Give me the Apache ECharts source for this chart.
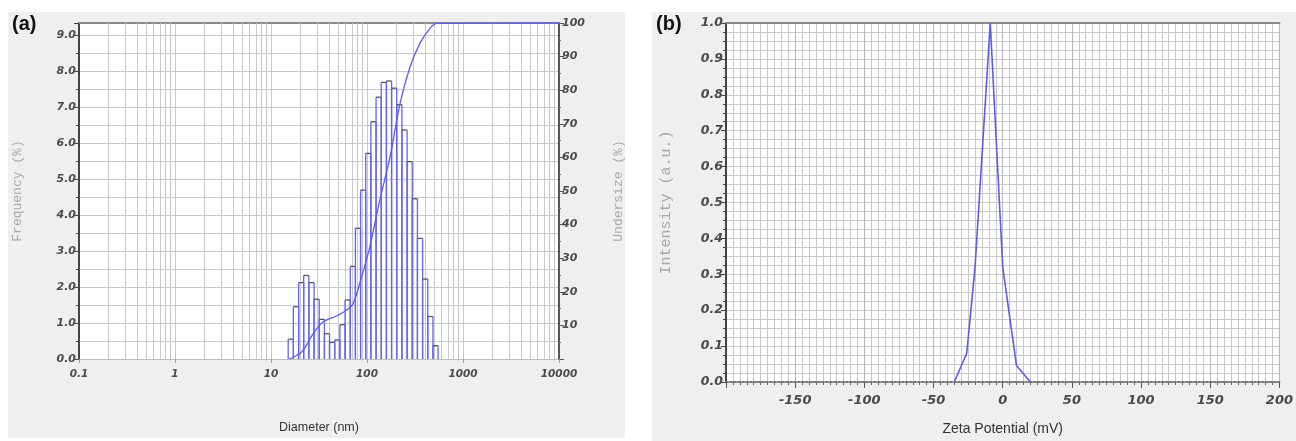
<!DOCTYPE html>
<html>
<head>
<meta charset="utf-8">
<script src="https://cdn.jsdelivr.net/npm/echarts@6/dist/echarts.min.js"></script>
<style>
html,body{margin:0;padding:0;background:#fff;}
#chart{width:1296px;height:441px;}
</style>
</head>
<body>
<div id="chart"></div>
<script>
// ---------- Panel (a): particle size distribution ----------
// histogram bin edges (nm)
const binEdgesNm = [15.1, 17.1, 19.4, 21.9, 24.8, 28.1, 31.8, 36.0, 40.7, 46.1, 52.2, 59.1, 66.9, 75.7, 85.7, 97.0,
  109.8, 124.3, 140.7, 159.3, 180.3, 204.1, 231.1, 261.6, 296.1, 335.2, 379.5, 429.6, 486.3, 550.5];
// frequency (%) of each bin
const frequencyPct = [0.55, 1.45, 2.12, 2.32, 2.12, 1.66, 1.10, 0.70, 0.46, 0.53, 0.95, 1.64, 2.57, 3.63, 4.69,
  5.71, 6.59, 7.27, 7.68, 7.72, 7.52, 7.06, 6.36, 5.48, 4.45, 3.35, 2.22, 1.18, 0.37];
// cumulative undersize curve
const undersizeDiameterNm = [15.5, 21, 27.6, 35, 48, 61.5, 72, 88, 107, 136, 174, 221, 281, 357, 453, 532, 10000];
const undersizePct = [0, 2.2, 7.6, 11.1, 12.8, 14.6, 16.6, 24.5, 33.4, 47.3, 60.2, 76.1, 87, 94, 98.4, 99.9, 100];
// log grid minor lines
const logMinorLines = [0.2,0.3,0.4,0.5,0.6,0.7,0.8,0.9, 2,3,4,5,6,7,8,9, 20,30,40,50,60,70,80,90,
  200,300,400,500,600,700,800,900, 2000,3000,4000,5000,6000,7000,8000,9000];

// ---------- Panel (b): zeta potential ----------
const zetaMv = [-35, -26, -20, -9, 0, 10, 20];
const zetaIntensity = [0, 0.08, 0.32, 1.0, 0.32, 0.045, 0];

const histData = frequencyPct.map((f, i) => [binEdgesNm[i], binEdgesNm[i + 1], f]);
const undersizeData = undersizeDiameterNm.map((d, i) => [d, undersizePct[i]]);
const zetaData = zetaMv.map((v, i) => [v, zetaIntensity[i]]);

const tickFont = {fontFamily: 'DejaVu Sans', fontWeight: 'bold', fontStyle: 'italic', color: '#4a4a4a'};
const gridColor = '#c9c9c9';
const blue = '#5b5bef';

const chart = echarts.init(document.getElementById('chart'), null, {renderer: 'canvas'});
chart.setOption({
  animation: false,
  backgroundColor: '#ffffff',
  graphic: [
    {type: 'rect', z: -100, shape: {x: 8, y: 12, width: 617, height: 426}, style: {fill: '#efefef'}, silent: true},
    {type: 'rect', z: -100, shape: {x: 652, y: 12, width: 644, height: 429}, style: {fill: '#efefef'}, silent: true},
    {type: 'text', left: 12, top: 14, style: {text: '(a)', font: 'bold 20px "Liberation Sans", Arial', fill: '#111'}},
    {type: 'text', left: 656, top: 14, style: {text: '(b)', font: 'bold 20px "Liberation Sans", Arial', fill: '#111'}}
  ],
  grid: [
    {left: 79, top: 23, width: 480, height: 336, show: true, backgroundColor: '#ffffff', borderWidth: 0},
    {left: 726, top: 23, width: 557, height: 364, show: true, backgroundColor: '#ffffff', borderWidth: 0}
  ],
  xAxis: [
    {
      gridIndex: 0, type: 'log', logBase: 10, min: 0.1, max: 10000,
      name: 'Diameter (nm)', nameLocation: 'middle', nameGap: 62,
      nameTextStyle: {fontFamily: 'Liberation Sans', fontSize: 12.5, color: '#333'},
      axisLine: {show: true, onZero: false, lineStyle: {color: '#bbb', width: 1, type: 'dotted'}},
      axisTick: {show: true, length: 4, lineStyle: {color: '#999'}},
      axisLabel: Object.assign({fontSize: 10.5, margin: 10, formatter: v => String(v)}, tickFont),
      splitLine: {show: true, lineStyle: {color: gridColor, width: 1}}
    },
    {
      gridIndex: 0, type: 'log', logBase: 10, min: 0.1, max: 10000, position: 'top',
      axisLine: {show: true, onZero: false, lineStyle: {color: '#8a8a8a', width: 2}},
      axisTick: {show: false}, axisLabel: {show: false}, splitLine: {show: false}
    },
    {
      gridIndex: 1, type: 'value', min: -200, max: 200, interval: 50,
      name: 'Zeta Potential (mV)', nameLocation: 'middle', nameGap: 40,
      nameTextStyle: {fontFamily: 'Liberation Sans', fontSize: 14, color: '#333'},
      axisLine: {show: true, onZero: false, lineStyle: {color: '#777', width: 2, type: 'dotted'}},
      axisTick: {show: true, length: 6, lineStyle: {color: '#555'}},
      minorTick: {show: true, splitNumber: 10, length: 3, lineStyle: {color: '#666'}},
      axisLabel: Object.assign({fontSize: 13, margin: 12, showMinLabel: false}, tickFont),
      splitLine: {show: true, lineStyle: {color: '#b8b8b8', width: 1}},
      minorSplitLine: {show: true, lineStyle: {color: gridColor, width: 1}}
    },
    {
      gridIndex: 1, type: 'value', min: -200, max: 200, position: 'top',
      axisLine: {show: true, onZero: false, lineStyle: {color: '#8a8a8a', width: 2}},
      axisTick: {show: false}, axisLabel: {show: false}, splitLine: {show: false}
    }
  ],
  yAxis: [
    {
      gridIndex: 0, type: 'value', min: 0, max: 9.33, interval: 1,
      name: 'Frequency (%)', nameLocation: 'middle', nameGap: 55, nameRotate: 90,
      nameTextStyle: {fontFamily: 'Liberation Mono', fontSize: 13, color: '#a8a8a8'},
      axisLine: {show: true, onZero: false, lineStyle: {color: '#444', width: 2}},
      axisTick: {show: true, length: 5, lineStyle: {color: '#444'}},
      minorTick: {show: true, splitNumber: 2, length: 3, lineStyle: {color: '#444'}},
      axisLabel: Object.assign({fontSize: 11, margin: 3, showMaxLabel: false, formatter: v => v.toFixed(1)}, tickFont),
      splitLine: {show: true, lineStyle: {color: gridColor, width: 1}},
      minorSplitLine: {show: true, lineStyle: {color: gridColor, width: 1}}
    },
    {
      gridIndex: 0, type: 'value', min: 0, max: 100, interval: 10, position: 'right',
      name: 'Undersize (%)', nameLocation: 'middle', nameGap: 53, nameRotate: 90,
      nameTextStyle: {fontFamily: 'Liberation Mono', fontSize: 13, color: '#a8a8a8'},
      axisLine: {show: true, onZero: false, lineStyle: {color: '#555', width: 2}},
      axisTick: {show: true, length: 5, lineStyle: {color: '#555'}},
      minorTick: {show: true, splitNumber: 2, length: 2, lineStyle: {color: '#777'}},
      axisLabel: Object.assign({fontSize: 11, margin: 3, showMinLabel: false}, tickFont),
      splitLine: {show: false}
    },
    {
      gridIndex: 1, type: 'value', min: 0, max: 1, interval: 0.1,
      name: 'Intensity (a.u.)', nameLocation: 'middle', nameGap: 52, nameRotate: 90,
      nameTextStyle: {fontFamily: 'Liberation Mono', fontSize: 15, color: '#a8a8a8'},
      axisLine: {show: true, onZero: false, lineStyle: {color: '#444', width: 2}},
      axisTick: {show: true, length: 5, lineStyle: {color: '#444'}},
      minorTick: {show: true, splitNumber: 4, length: 3, lineStyle: {color: '#444'}},
      axisLabel: Object.assign({fontSize: 12.5, margin: 3, formatter: v => v.toFixed(1)}, tickFont),
      splitLine: {show: true, lineStyle: {color: gridColor, width: 1}},
      minorSplitLine: {show: true, lineStyle: {color: gridColor, width: 1}}
    }
  ],
  series: [
    {
      type: 'custom', xAxisIndex: 0, yAxisIndex: 0, data: histData, z: 5,
      encode: {x: [0, 1], y: 2},
      renderItem: function (params, api) {
        const lo = api.coord([api.value(0), 0]);
        const hi = api.coord([api.value(1), api.value(2)]);
        return {
          type: 'group',
          children: [
            {type: 'line', shape: {x1: lo[0], y1: lo[1], x2: lo[0], y2: hi[1]}, style: {stroke: '#6464ee', lineWidth: 1.3}},
            {type: 'line', shape: {x1: hi[0], y1: lo[1], x2: hi[0], y2: hi[1]}, style: {stroke: '#6464ee', lineWidth: 1.3}},
            {type: 'line', shape: {x1: lo[0], y1: hi[1], x2: hi[0], y2: hi[1]}, style: {stroke: '#555', lineWidth: 1.3}}
          ]
        };
      }
    },
    {
      type: 'line', xAxisIndex: 0, yAxisIndex: 1, data: undersizeData, smooth: 0.3,
      showSymbol: false, lineStyle: {color: blue, width: 1.3}, z: 6,
      markLine: {
        silent: true, symbol: 'none', label: {show: false},
        lineStyle: {color: gridColor, width: 1, type: 'solid'},
        data: logMinorLines.map(v => ({xAxis: v})), z: 1
      }
    },
    {
      type: 'line', xAxisIndex: 2, yAxisIndex: 2, data: zetaData,
      showSymbol: false, lineStyle: {color: blue, width: 1.6}, z: 6
    }
  ]
});
</script>
</body>
</html>
